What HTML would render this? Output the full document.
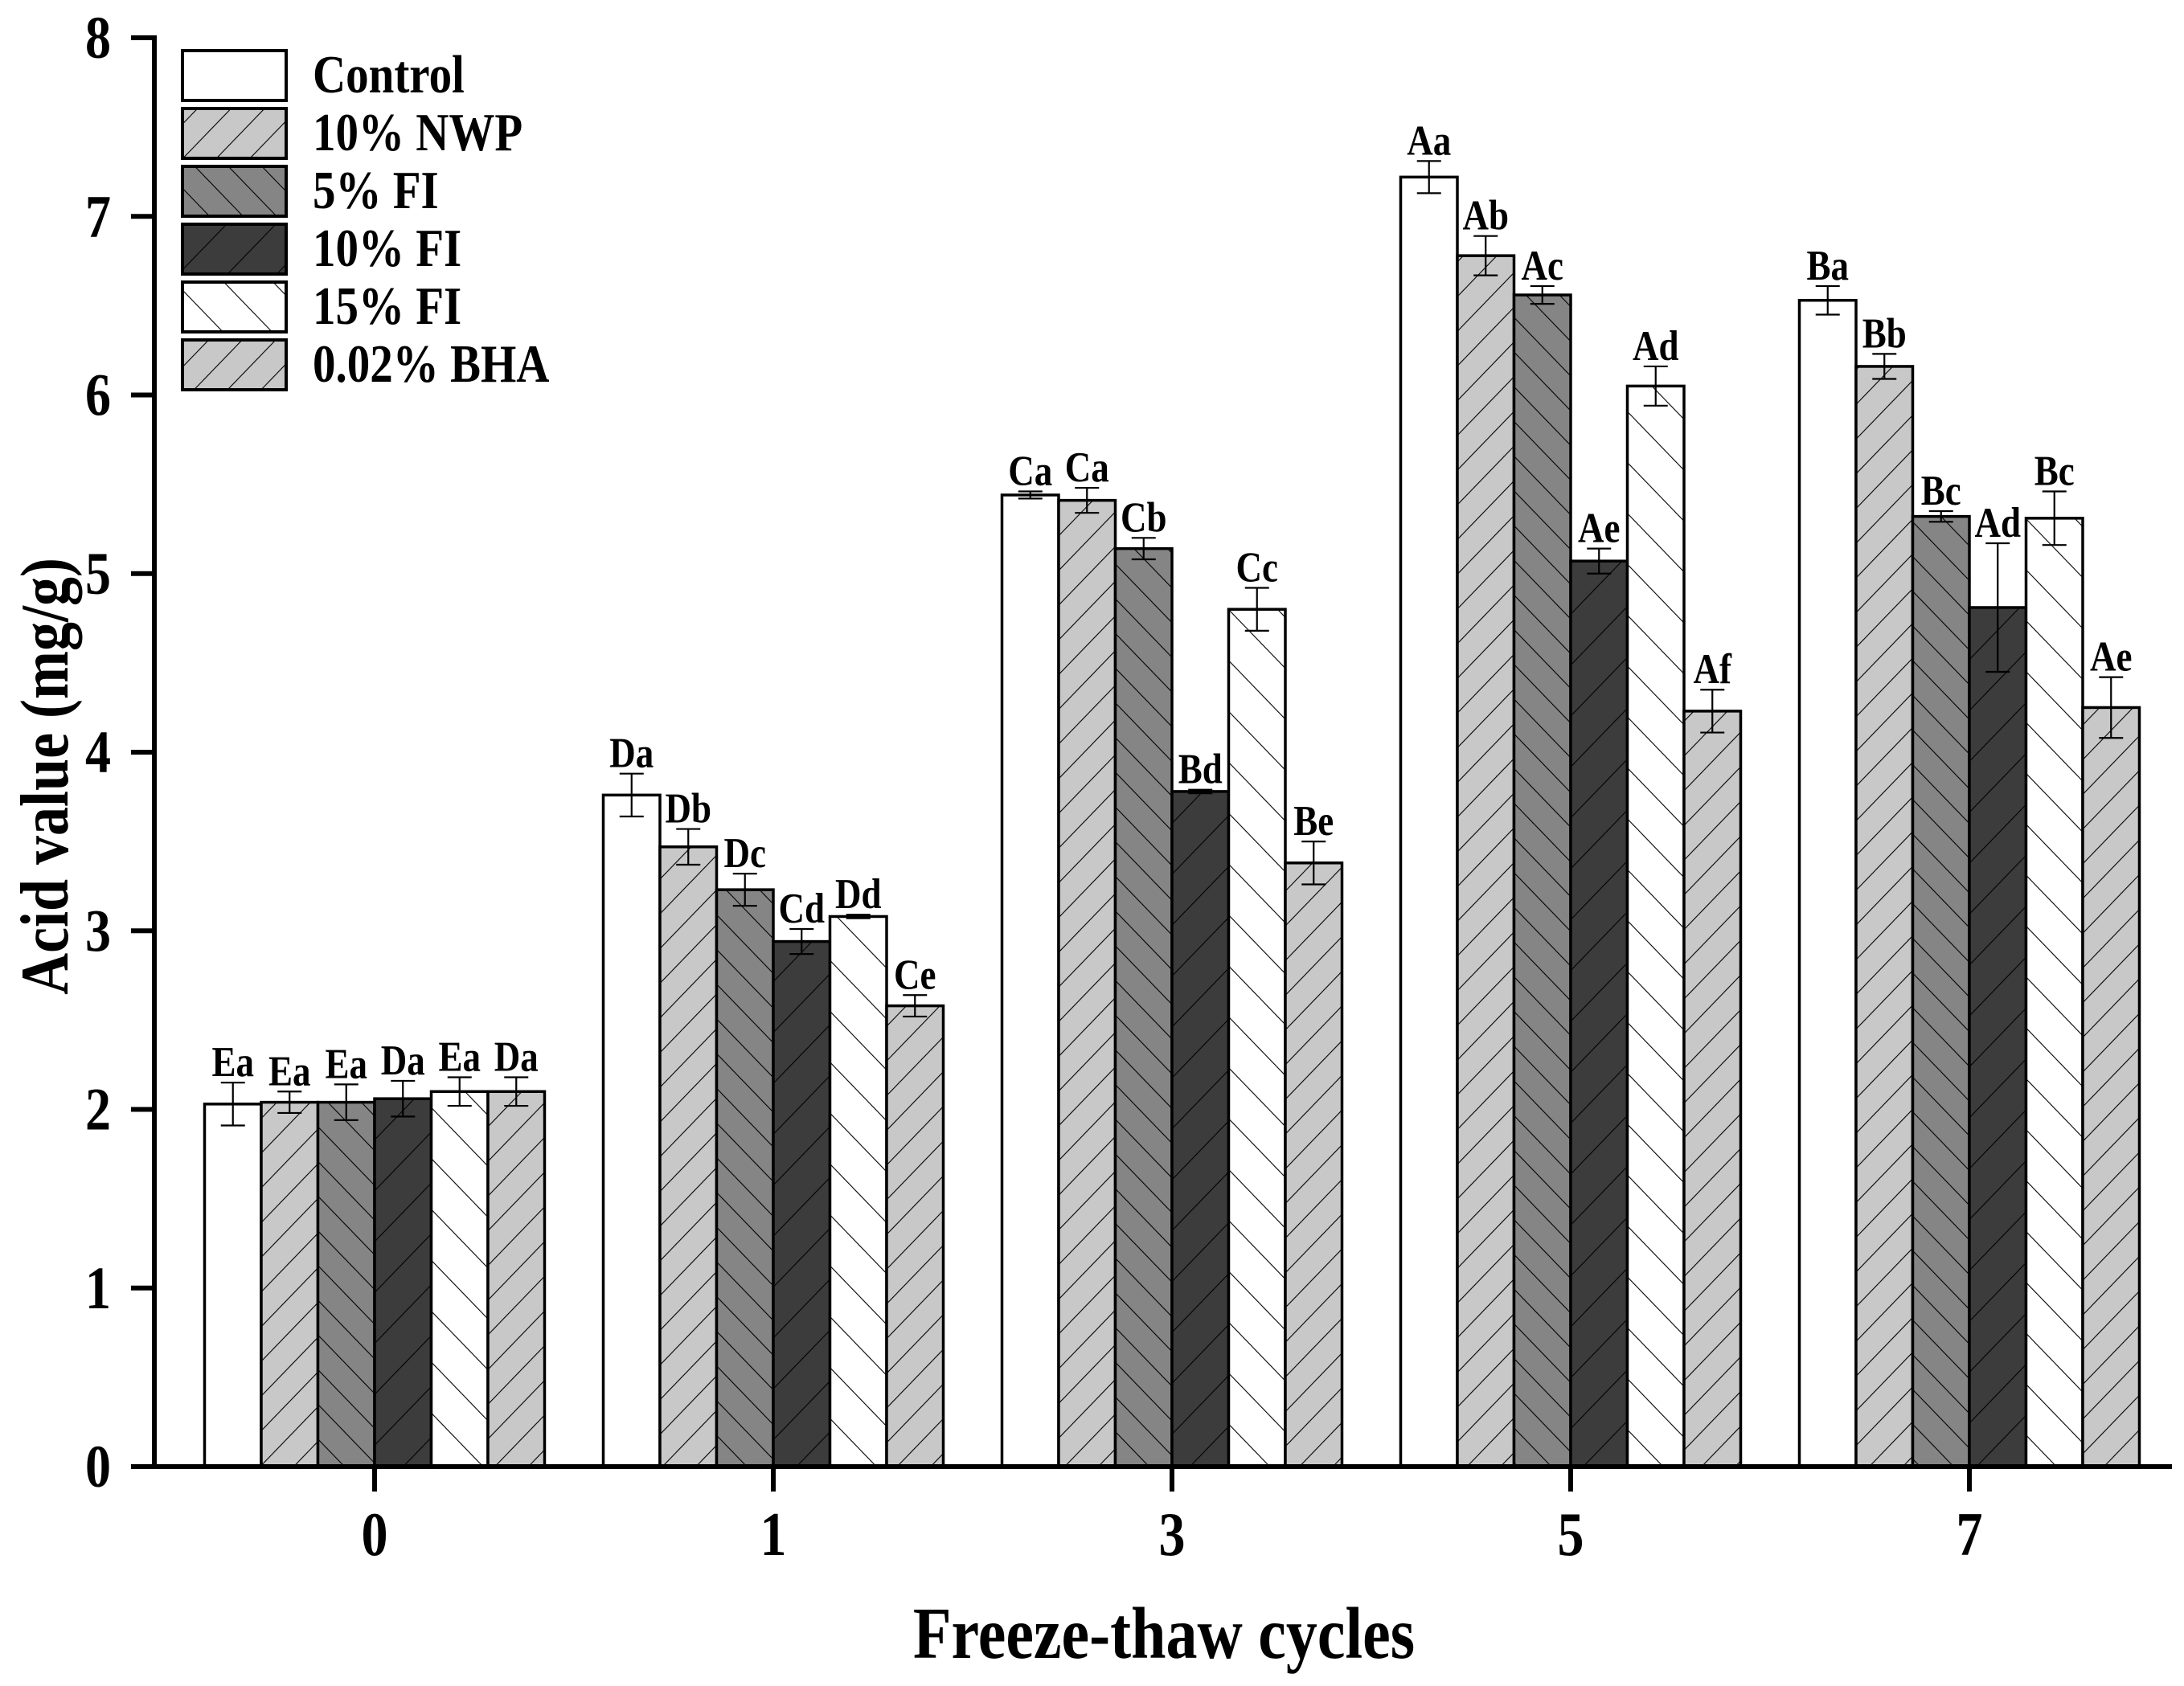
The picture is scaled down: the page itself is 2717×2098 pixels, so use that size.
<!DOCTYPE html>
<html><head><meta charset="utf-8"><style>
html,body{margin:0;padding:0;background:#fff;}
svg{display:block;font-family:"Liberation Serif","Times New Roman",serif;font-weight:bold;}
</style></head><body>
<svg id="chart" width="2717" height="2098" viewBox="0 0 2717 2098" xmlns="http://www.w3.org/2000/svg">
<defs>
<pattern id="p-nwp" patternUnits="userSpaceOnUse" width="30" height="40" patternTransform="rotate(44)"><rect width="30" height="40" fill="#c8c8c8"/><line x1="0" y1="0" x2="0" y2="40" stroke="#000" stroke-width="2.2"/></pattern>
<pattern id="p-fi5" patternUnits="userSpaceOnUse" width="30" height="40" patternTransform="rotate(-44)"><rect width="30" height="40" fill="#858585"/><line x1="0" y1="0" x2="0" y2="40" stroke="#000" stroke-width="2.2"/></pattern>
<pattern id="p-fi10" patternUnits="userSpaceOnUse" width="44" height="40" patternTransform="rotate(44)"><rect width="44" height="40" fill="#3c3c3c"/><line x1="0" y1="0" x2="0" y2="40" stroke="#000" stroke-width="2.2"/></pattern>
<pattern id="p-fi15" patternUnits="userSpaceOnUse" width="44" height="40" patternTransform="rotate(-44)"><rect width="44" height="40" fill="#fff"/><line x1="0" y1="0" x2="0" y2="40" stroke="#000" stroke-width="2.2"/></pattern>
<pattern id="p-bha" patternUnits="userSpaceOnUse" width="30" height="40" patternTransform="rotate(44)"><rect width="30" height="40" fill="#c8c8c8"/><line x1="0" y1="0" x2="0" y2="40" stroke="#000" stroke-width="2.2"/></pattern>
</defs>
<g id="bars"></g>
<g id="axes"></g>
<g id="legend"></g>
</svg>
<script>
const categories = ["0","1","3","5","7"];
const seriesNames = ["Control","10% NWP","5% FI","10% FI","15% FI","0.02% BHA"];
const control = [2.03,3.76,5.44,7.22,6.53];
const nwp = [2.04,3.47,5.41,6.78,6.16];
const fi5 = [2.04,3.23,5.14,6.56,5.32];
const fi10 = [2.06,2.94,3.78,5.07,4.81];
const fi15 = [2.10,3.08,4.80,6.05,5.31];
const bha = [2.10,2.58,3.38,4.23,4.25];
const errControl = [0.12,0.12,0.02,0.09,0.08];
const errNwp = [0.06,0.10,0.07,0.11,0.07];
const errFi5 = [0.10,0.09,0.06,0.05,0.03];
const errFi10 = [0.10,0.07,0.01,0.07,0.36];
const errFi15 = [0.08,0.01,0.12,0.11,0.15];
const errBha = [0.08,0.06,0.12,0.12,0.17];
const lblControl = ["Ea","Da","Ca","Aa","Ba"];
const lblNwp = ["Ea","Db","Ca","Ab","Bb"];
const lblFi5 = ["Ea","Dc","Cb","Ac","Bc"];
const lblFi10 = ["Da","Cd","Bd","Ae","Ad"];
const lblFi15 = ["Ea","Dd","Cc","Ad","Bc"];
const lblBha = ["Da","Ce","Be","Af","Ae"];
const yTicks = [0,1,2,3,4,5,6,7,8];

const values=[control,nwp,fi5,fi10,fi15,bha];
const errs=[errControl,errNwp,errFi5,errFi10,errFi15,errBha];
const lbls=[lblControl,lblNwp,lblFi5,lblFi10,lblFi15,lblBha];
const fills=["#fff","url(#p-nwp)","url(#p-fi5)","url(#p-fi10)","url(#p-fi15)","url(#p-bha)"];
const keys=["control","nwp","fi5","fi10","fi15","bha"];
const NS="http://www.w3.org/2000/svg";
const X0=192, Y0=1825, YTOP=47, XEND=2702;
const SY=1.17;
const yScale=v=>Y0-(Y0-YTOP)*v/8;
const xCenter=i=>466+i*496;
const BW=70.5;
function mk(tag,attrs,parent,text){const e=document.createElementNS(NS,tag);for(const k in attrs)e.setAttribute(k,attrs[k]);if(text!==undefined)e.textContent=text;parent.appendChild(e);return e;}
function txt(x,y,size,anchor,parent,text){return mk('text',{x:0,y:0,'text-anchor':anchor,'font-size':size,transform:`translate(${x},${y}) scale(1,${SY})`},parent,text);}
const gb=document.getElementById('bars');
categories.forEach((c,i)=>{
  values.forEach((arr,s)=>{
    const x=xCenter(i)-3*BW+s*BW;
    const v=arr[i], y=yScale(v);
    const r=mk('rect',{x:x,y:y,width:BW,height:Y0-y,fill:fills[s],stroke:'#000','stroke-width':3.5},gb);
    
    
    const cx=x+BW/2, e=errs[s][i];
    const yt=yScale(v+e), yb=yScale(v-e);
    const eb=mk('path',{d:`M${cx},${yt}V${yb}M${cx-15},${yt}H${cx+15}M${cx-15},${yb}H${cx+15}`,stroke:'#000','stroke-width':2.2,fill:'none'},gb);
    
    
    const t=txt(cx,yt-8,45,'middle',gb,lbls[s][i]);
    
    
  });
});
const ga=document.getElementById('axes');
const ya=mk('line',{x1:X0,y1:YTOP-3,x2:X0,y2:Y0+3,stroke:'#000','stroke-width':6},ga);


const xa=mk('line',{x1:X0-3,y1:Y0,x2:XEND,y2:Y0,stroke:'#000','stroke-width':6},ga);


yTicks.forEach(v=>{
  const y=yScale(v);
  const tk=mk('line',{x1:163,y1:y,x2:X0,y2:y,stroke:'#000','stroke-width':6},ga);
  
  
  const t=txt(138,y+25,64,'end',ga,String(v));
  
  
});
categories.forEach((c,i)=>{
  const x=xCenter(i);
  const tk=mk('line',{x1:x,y1:Y0,x2:x,y2:1856,stroke:'#000','stroke-width':6},ga);
  
  
  const t=txt(x,1935,66,'middle',ga,c);
  
  
});
const xt=txt(1448,2063,78,'middle',ga,'Freeze-thaw cycles');


const yt=mk('text',{x:0,y:0,'text-anchor':'middle','font-size':72,transform:'translate(84,966) rotate(-90) scale(1,1.17)'},ga,'Acid value (mg/g)');


const gl=document.getElementById('legend');
seriesNames.forEach((n,s)=>{
  const y=63+s*72;
  const g=mk('g',{},gl);
  
  
  mk('rect',{x:227,y:y,width:129,height:62,fill:fills[s],stroke:'#000','stroke-width':4},g);
  txt(389,y+52,57,'start',g,n);
});
</script>
</body></html>
